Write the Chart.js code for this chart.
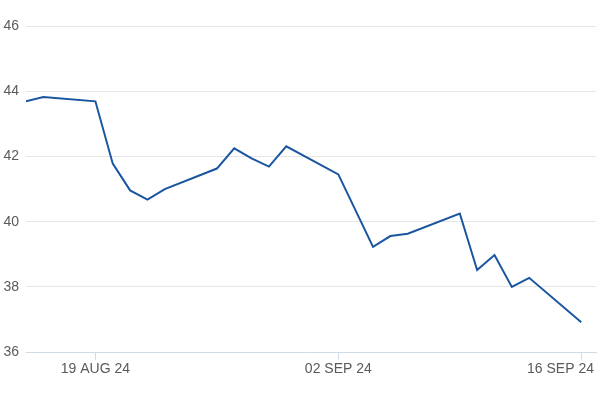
<!DOCTYPE html>
<html>
<head>
<meta charset="utf-8">
<script src="https://cdn.jsdelivr.net/npm/chart.js@4/dist/chart.umd.min.js"></script>
<style>
html,body{margin:0;padding:0;background:#fff;}
#wrap{width:600px;height:400px;position:relative;}
</style>
</head>
<body>
<div id="wrap"><canvas id="c"></canvas></div>
<script>
const dates = ['2024-08-15','2024-08-16','2024-08-19','2024-08-20','2024-08-21','2024-08-22','2024-08-23',
  '2024-08-26','2024-08-27','2024-08-28','2024-08-29','2024-08-30','2024-09-02','2024-09-04','2024-09-05',
  '2024-09-06','2024-09-09','2024-09-10','2024-09-11','2024-09-12','2024-09-13','2024-09-16'];
const values = [43.69,43.82,43.69,41.78,40.96,40.68,41.0,
  41.63,42.25,41.94,41.69,42.31,41.45,39.23,39.56,
  39.63,40.25,38.52,38.98,38.0,38.28,36.92];
const tickDates = ['2024-08-19','2024-09-02','2024-09-16'];
const tickLabels = ['19 AUG 24','02 SEP 24','16 SEP 24'];
const yTicks = [36,38,40,42,44,46];

const base = Date.UTC(2024,7,15);
const dayOf = s => { const p = s.split('-').map(Number); return Math.round((Date.UTC(p[0],p[1]-1,p[2]) - base)/86400000); };
const points = dates.map((d,i)=>({x: dayOf(d), y: values[i]}));
const tickPos = tickDates.map(dayOf);
const labelFont = '14px "Liberation Sans", Arial, sans-serif';

const xLabelPlugin = {
  id: 'xLabels',
  afterDraw(chart) {
    const ctx = chart.ctx, sx = chart.scales.x;
    ctx.save();
    ctx.font = labelFont;
    ctx.fillStyle = '#5a5a5a';
    ctx.textBaseline = 'middle';
    ctx.textAlign = 'left';
    const y = sx.top + 17;
    tickPos.forEach((v, i) => {
      const t = tickLabels[i];
      const w = ctx.measureText(t).width;
      let x = sx.getPixelForValue(v) - w / 2;
      if (x + w > chart.width - 6) x = chart.width - 6 - w;
      ctx.fillText(t, x, y);
    });
    ctx.restore();
  }
};

new Chart(document.getElementById('c'), {
  type: 'line',
  data: { datasets: [{ data: points, borderColor: '#1a56a0', borderWidth: 2, pointRadius: 0, tension: 0, fill: false }] },
  options: {
    responsive: true, maintainAspectRatio: false, animation: false,
    layout: { padding: { left: 0, right: 4, top: 26, bottom: 19 } },
    plugins: { legend: { display: false }, tooltip: { enabled: false } },
    scales: {
      x: {
        type: 'linear', min: 0, max: 32.85,
        afterBuildTicks: ax => { ax.ticks = tickPos.map(v => ({ value: v })); },
        afterFit: ax => { ax.paddingLeft = 0; ax.paddingRight = 0; },
        ticks: { autoSkip: false, maxRotation: 0, padding: 2, color: 'rgba(0,0,0,0)', font: { family: 'Liberation Sans, Arial', size: 14 },
          callback: (v) => { const i = tickPos.indexOf(v); return i >= 0 ? tickLabels[i] : ''; } },
        grid: { display: true, drawOnChartArea: false, drawTicks: true, tickLength: 8, color: '#cfdbe8' },
        border: { display: true, color: '#cfdbe8', width: 1 }
      },
      y: {
        min: 36, max: 46,
        afterBuildTicks: ax => { ax.ticks = yTicks.map(v => ({ value: v })); },
        afterFit: ax => { ax.width = 26; },
        ticks: { padding: 7, color: '#5a5a5a', font: { family: 'Liberation Sans, Arial', size: 14 } },
        grid: { color: '#e6e6e6', drawTicks: false },
        border: { display: false }
      }
    }
  },
  plugins: [xLabelPlugin]
});
</script>
</body>
</html>
